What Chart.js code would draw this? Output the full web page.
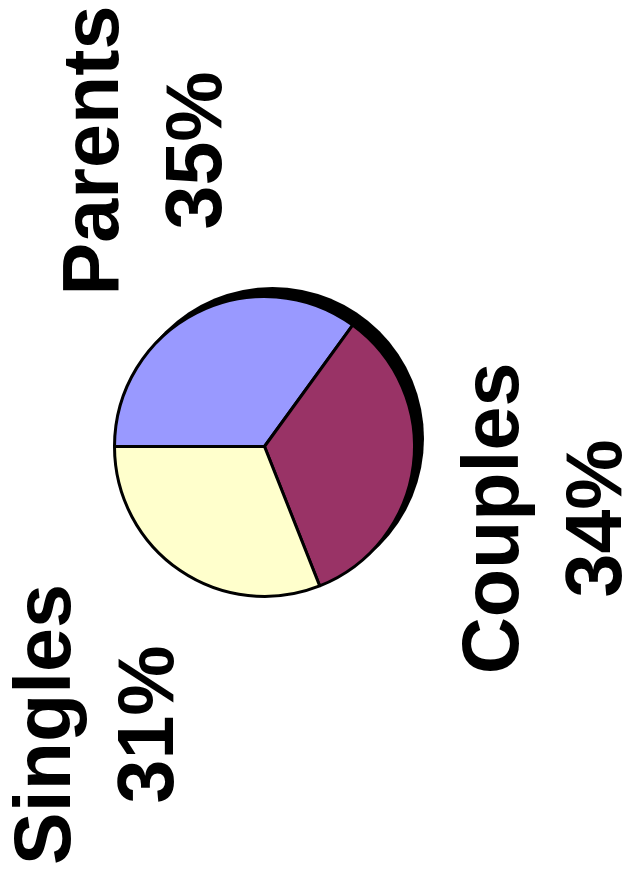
<!DOCTYPE html>
<html>
<head>
<meta charset="utf-8">
<script src="https://cdn.jsdelivr.net/npm/chart.js@4/dist/chart.umd.min.js"></script>
<style>
  html, body { margin: 0; padding: 0; background: #ffffff; }
  #wrap { width: 624px; height: 882px; position: relative; }
</style>
</head>
<body>
<div id="wrap"><canvas id="c"></canvas></div>
<script>
const categories = ["Parents", "Couples", "Singles"];
const values = [35, 34, 31];
const valueLabels = ["35%", "34%", "31%"];
const colors = ["#9999FF", "#993366", "#FFFFCC"];

// label anchors relative to pie centre (first-line baseline, rotated text)
const labelOffsets = [
  { dx: -147, dy: -296 },
  { dx: 253, dy: 72 },
  { dx: -195, dy: 278 }
];

const shadowPlugin = {
  id: 'shadow',
  beforeDatasetsDraw(chart) {
    const arc = chart.getDatasetMeta(0).data[0];
    if (!arc) return;
    const ctx = chart.ctx;
    const r = arc.outerRadius + 1.5;
    ctx.save();
    ctx.fillStyle = '#000000';
    ctx.beginPath();
    ctx.arc(arc.x + 8, arc.y - 8, r, 0, Math.PI * 2);
    ctx.fill();
    ctx.restore();
  }
};

const labelPlugin = {
  id: 'rotLabels',
  afterDatasetsDraw(chart) {
    const arcs = chart.getDatasetMeta(0).data;
    const ctx = chart.ctx;
    ctx.save();
    ctx.fillStyle = '#000000';
    ctx.font = 'bold 79px "Liberation Sans", Arial, sans-serif';
    ctx.textAlign = 'center';
    ctx.textBaseline = 'alphabetic';
    arcs.forEach((a, i) => {
      const o = labelOffsets[i];
      const lines = [categories[i], valueLabels[i]];
      lines.forEach((t, j) => {
        ctx.save();
        ctx.translate(a.x + o.dx + j * 103, a.y + o.dy);
        ctx.rotate(-Math.PI / 2);
        ctx.fillText(t, 0, 0);
        ctx.restore();
      });
    });
    ctx.restore();
  }
};

new Chart(document.getElementById('c'), {
  type: 'pie',
  data: {
    labels: categories,
    datasets: [{
      data: values,
      backgroundColor: colors,
      borderColor: '#000000',
      borderWidth: 3
    }]
  },
  options: {
    responsive: true,
    maintainAspectRatio: false,
    animation: false,
    rotation: -90,
    layout: { padding: { left: 113, top: 295, right: 208, bottom: 284 } },
    plugins: {
      legend: { display: false },
      tooltip: { enabled: false }
    }
  },
  plugins: [shadowPlugin, labelPlugin]
});
</script>
</body>
</html>
